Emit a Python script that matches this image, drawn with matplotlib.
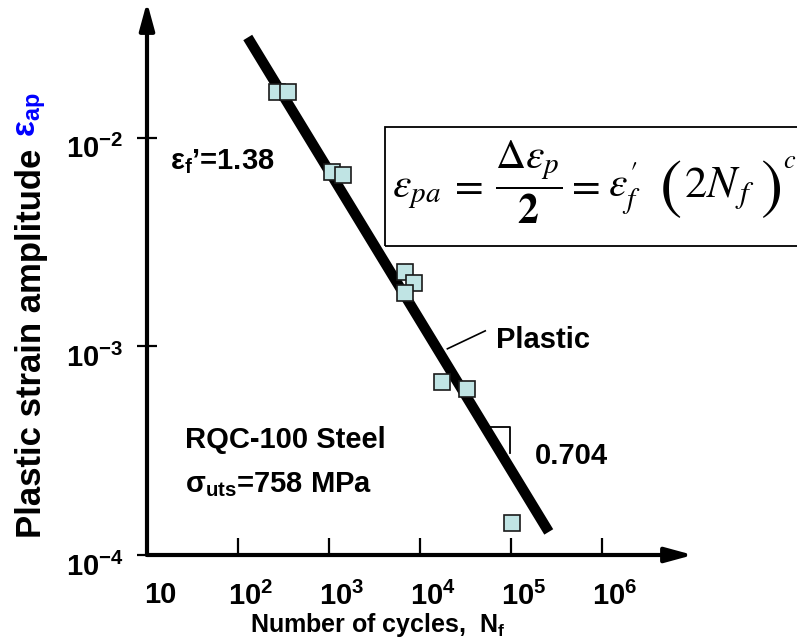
import matplotlib
matplotlib.use("Agg")
import matplotlib.pyplot as plt
from matplotlib.patches import Rectangle
from matplotlib.ticker import NullLocator
from matplotlib.transforms import ScaledTranslation

plt.rcParams['font.family'] = ['Liberation Sans', 'DejaVu Sans']
plt.rcParams['mathtext.fontset'] = 'custom'
plt.rcParams['mathtext.rm'] = 'Liberation Sans:bold'
plt.rcParams['mathtext.it'] = 'Liberation Sans:bold'
plt.rcParams['mathtext.bf'] = 'Liberation Sans:bold'

# test data, RQC-100 steel
cycles = [266, 352, 1069, 1409, 6918, 8690, 6918, 17620, 33100, 103000]
strain = [0.01663, 0.01663, 0.00687, 0.00665, 0.002275, 0.00202, 0.001807,
          0.000676, 0.000625, 0.000142]

# fitted plastic line, end points
fit_cycles = [128, 2.6e5]
fit_strain = [0.0302, 1.29e-4]

x_ticks = [10, 1e2, 1e3, 1e4, 1e5, 1e6]
x_labels = ['10', r'$10^{2}$', r'$10^{3}$', r'$10^{4}$', r'$10^{5}$', r'$10^{6}$']
y_ticks = [1e-4, 1e-3, 1e-2]
y_labels = [r'$10^{-4}$', r'$10^{-3}$', r'$10^{-2}$']

W, H = 797, 642
fig = plt.figure(figsize=(W / 100, H / 100), dpi=100)
ax = fig.add_axes([147/W, 87/H, 546/W, 553/H])
ax.set_xscale('log')
ax.set_yscale('log')
ax.set_xlim(10, 1e7)
ax.set_ylim(1e-4, 10**-1.35)
for s in ax.spines.values():
    s.set_visible(False)


def ftext(x, y, s, **kw):
    # text placed in pixel coords measured from top-left
    return fig.text(x / W, 1 - y / H, s, **kw)


# axes with arrows
arr = dict(arrowstyle='-|>,head_length=1.1,head_width=0.3', mutation_scale=15,
           lw=3, color='k', shrinkA=0, shrinkB=0)
ax.annotate('', xy=(1, 0), xytext=(0, 0), xycoords='axes fraction', arrowprops=arr)
ax.annotate('', xy=(0, 1), xytext=(0, 0), xycoords='axes fraction', arrowprops=arr)

ax.set_xticks(x_ticks, x_labels)
ax.set_yticks(y_ticks, y_labels)
ax.xaxis.set_minor_locator(NullLocator())
ax.yaxis.set_minor_locator(NullLocator())
ax.tick_params(axis='x', direction='in', length=12, width=1.6, pad=19, labelsize=21)
ax.tick_params(axis='y', direction='inout', length=14, width=1.6, pad=10, labelsize=21)
for lab in ax.get_xticklabels():
    lab.set_fontweight('bold')
    lab.set_transform(lab.get_transform() + ScaledTranslation(0.13, 0, fig.dpi_scale_trans))
for lab in ax.get_yticklabels():
    lab.set_fontweight('bold')
    lab.set_transform(lab.get_transform() + ScaledTranslation(0, -0.09, fig.dpi_scale_trans))

# slope bracket and leader line
ax.plot([5.75e4, 9.8e4, 9.8e4], [4.11e-4, 4.11e-4, 3.08e-4], color='k', lw=1.3)
ax.plot([5.21e4, 2.0e4], [1.186e-3, 9.73e-4], color='k', lw=1.2)

ax.plot(fit_cycles, fit_strain, color='k', lw=7.5, solid_capstyle='butt')
ax.plot(cycles, strain, 's', ms=11, mfc='#c0e4e4', mec='#1a1a1a', mew=1.2)

tkw = dict(fontsize=21, fontweight='bold', va='center', ha='left')
ax.text(6.89e4, 1.075e-3, 'Plastic', **tkw)
ax.text(1.84e5, 2.99e-4, '0.704', **tkw)
ax.text(26.1, 3.56e-4, 'RQC-100 Steel', **tkw)
ax.text(26.1, 2.17e-4, 'σ$_{uts}$=758 MPa', **tkw)
ax.text(17.9, 7.67e-3, 'ε$_{f}$’=1.38', **tkw)

# formula box (runs off the right edge)
fig.add_artist(Rectangle((385/W, 396/H), 0.6, 119/H, transform=fig.transFigure,
                         fill=False, lw=1.3, ec='k'))
fkw = dict(fontsize=30, math_fontfamily='stix', va='baseline', ha='left')
pkw = dict(fontsize=48, family='STIXGeneral', va='center', ha='left')
ftext(392, 197, r'$\varepsilon_{pa}$', **fkw)
ftext(448, 197, r'$=$', **fkw)
ftext(495, 197, r'$\dfrac{\Delta\varepsilon_p}{\mathbf{2}}$', **fkw)
ftext(565, 197, r'$=$', **fkw)
ftext(608, 197, r'$\varepsilon^{\prime}_{f}$', **fkw)
ftext(660, 191, '(', **pkw)
ftext(684, 197, r'$2N_{\,f}$', fontsize=32, math_fontfamily='stix', va='baseline', ha='left')
ftext(760, 191, ')', **pkw)
ftext(783, 168, r'$c$', fontsize=19, math_fontfamily='stix', va='baseline', ha='left')

# axis titles
ftext(378, 625, 'Number of cycles,  N$_{f}$', fontsize=18, fontweight='bold',
      ha='center', va='center')
ylab = ftext(32, 343, 'Plastic strain amplitude', fontsize=25, fontweight='bold',
             rotation=90, ha='center', va='center')
ax.annotate('ε$_{ap}$', xy=(0.5, 1.0), xycoords=ylab, xytext=(0, 8),
            textcoords='offset points', rotation=90, ha='center', va='bottom',
            fontsize=24, fontweight='bold', color='#0000ff', annotation_clip=False)

fig.savefig('out.png', dpi=100)
